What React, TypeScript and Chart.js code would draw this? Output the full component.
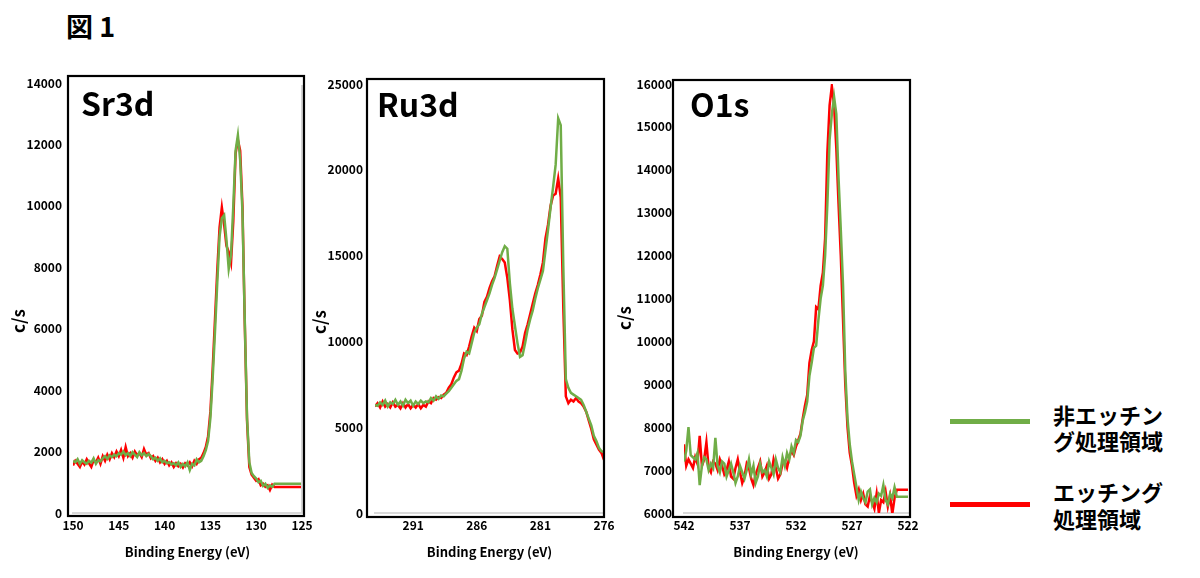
import React, { useEffect, useRef } from "react";
import { Chart, registerables } from "chart.js";

Chart.register(...registerables);

const GREEN = "#70AD47";
const RED = "#FF0000";
const FONT = "'Noto Sans CJK JP', 'Noto Sans', sans-serif";

const LEGEND_UNETCHED = ["非エッチン", "グ処理領域"];
const LEGEND_ETCHED = ["エッチング", "処理領域"];
const X_TITLE = "Binding Energy (eV)";
const Y_TITLE = "c/s";

// ---------- Sr3d ----------
const srEnergy = [
  150, 149.75, 149.5, 149.25, 149, 148.75, 148.5, 148.25, 148, 147.75,
  147.5, 147.25, 147, 146.75, 146.5, 146.25, 146, 145.75, 145.5, 145.25,
  145, 144.75, 144.5, 144.25, 144, 143.75, 143.5, 143.25, 143, 142.75,
  142.5, 142.25, 142, 141.75, 141.5, 141.25, 141, 140.75, 140.5, 140.25,
  140, 139.75, 139.5, 139.25, 139, 138.75, 138.5, 138.25, 138, 137.75,
  137.5, 137.25, 137, 136.75, 136.5, 136.25, 136, 135.75, 135.5, 135.25,
  135, 134.75, 134.5, 134.25, 134, 133.75, 133.5, 133.25, 133, 132.75,
  132.5, 132.25, 132, 131.75, 131.5, 131.25, 131, 130.75, 130.5, 130.25,
  130, 129.75, 129.5, 129.25, 129, 128.75, 128.5, 128.25, 128, 125,
];
const srEtched = [
  1550, 1700, 1600, 1500, 1680, 1580, 1750, 1620, 1500, 1720,
  1650, 1800, 1600, 1850, 1700, 1900, 1750, 1950, 1820, 2000,
  1850, 2050, 1800, 2150, 1850, 1950, 1800, 2000, 1880, 1950,
  1820, 2080, 1900, 1950, 1780, 1850, 1700, 1800, 1650, 1750,
  1600, 1700, 1550, 1650, 1500, 1620, 1520, 1600, 1480, 1620,
  1550, 1650, 1520, 1700, 1600, 1750, 1800, 1950, 2150, 2500,
  3300, 4700, 6300, 7900, 9300, 9950, 9400, 8700, 8500, 8150,
  9500, 11700, 12150, 11800, 10000, 6200, 3000, 1500, 1250, 1150,
  1050, 1100, 900, 950, 850, 900, 750, 920, 850, 850,
];
const srUnetched = [
  1700, 1650, 1750, 1600, 1720, 1650, 1600, 1700, 1640, 1780,
  1600, 1720, 1680, 1780, 1850, 1760, 1880, 1820, 1900, 1850,
  1950, 1900, 2000, 1880, 1950, 1850, 1980, 1900, 1820, 1980,
  1880, 1950, 1850, 1920, 1850, 1750, 1800, 1700, 1780, 1650,
  1700, 1620, 1650, 1580, 1620, 1550, 1650, 1500, 1600, 1520,
  1650, 1400, 1600, 1550, 1750, 1650, 1700, 1850, 2050, 2350,
  3100, 4400, 5900, 7500, 9000, 9600, 9700, 8900, 7950, 8400,
  10000, 11800, 12300, 11500, 9800, 6300, 3100, 1650, 1300, 1200,
  1120, 1000, 1050, 880, 950, 820, 900, 850, 950, 950,
];
const srXTicks = [150, 145, 140, 135, 130, 125];
const srYTicks = [0, 2000, 4000, 6000, 8000, 10000, 12000, 14000];

// ---------- Ru3d ----------
const ruEnergy = [
  294, 293.8, 293.6, 293.4, 293.2, 293, 292.8, 292.6, 292.4, 292.2,
  292, 291.8, 291.6, 291.4, 291.2, 291, 290.8, 290.6, 290.4, 290.2,
  290, 289.8, 289.6, 289.4, 289.2, 289, 288.8, 288.6, 288.4, 288.2,
  288, 287.8, 287.6, 287.4, 287.2, 287, 286.8, 286.6, 286.4, 286.2,
  286, 285.8, 285.6, 285.4, 285.2, 285, 284.8, 284.6, 284.4, 284.2,
  284, 283.8, 283.6, 283.4, 283.2, 283, 282.8, 282.6, 282.4, 282.2,
  282, 281.8, 281.6, 281.4, 281.2, 281, 280.8, 280.6, 280.4, 280.2,
  280, 279.8, 279.6, 279.4, 279.2, 279, 278.8, 278.6, 278.4, 278.2,
  278, 277.8, 277.6, 277.4, 277.2, 277, 276.8, 276.6, 276.4, 276.2,
  276,
];
const ruEtched = [
  6200, 6400, 6150, 6500, 6200, 6350, 6150, 6450, 6200, 6300,
  6100, 6400, 6150, 6350, 6100, 6300, 6150, 6350, 6100, 6300,
  6200, 6500, 6400, 6700, 6600, 6750, 6700, 6900, 7000, 7300,
  7500, 7900, 8200, 8300, 8700, 9300, 9200, 9700, 10300, 10800,
  10600, 11300, 11500, 12300, 12600, 13100, 13500, 13800, 14400, 14950,
  14800, 14600, 13700, 12400, 10700, 9500, 9300, 9350, 9700, 10500,
  11000, 11600, 12200, 12800, 13300, 13900, 14600, 16000, 16800, 17900,
  18500, 18600, 19500, 18400, 12000, 6800, 6400, 6600, 6500, 6700,
  6500, 6400, 6200, 5900, 5400, 4900, 4300, 4000, 3700, 3500,
  3100,
];
const ruUnetched = [
  6300, 6250, 6450, 6300, 6550, 6200, 6450, 6350, 6600, 6300,
  6500, 6250, 6600, 6400, 6550, 6250, 6500, 6350, 6550, 6400,
  6500, 6450, 6700, 6550, 6800, 6650, 6850, 6800, 6950, 7100,
  7300, 7500, 7700, 7800, 8300, 9000, 9400, 9300, 9900, 10500,
  10800, 11000, 11600, 12000, 12400, 12800, 13300, 13700, 14200, 14700,
  15200, 15550, 15400, 13400, 11900, 10900, 9900, 9100, 9200, 9900,
  10700, 11300, 11800, 12500, 13100, 13600, 14100, 15300, 16500, 17800,
  19000, 20300, 23000, 22600, 14400, 7800, 7300, 7000, 6900, 6800,
  6700, 6600, 6300, 5900, 5500, 5100, 4500, 4200, 3800, 3600,
  3550,
];
const ruXTicks = [291, 286, 281, 276];
const ruYTicks = [0, 5000, 10000, 15000, 20000, 25000];

// ---------- O1s ----------
const oEnergy = [
  542, 541.8, 541.6, 541.4, 541.2, 541, 540.8, 540.6, 540.4, 540.2,
  540, 539.8, 539.6, 539.4, 539.2, 539, 538.8, 538.6, 538.4, 538.2,
  538, 537.8, 537.6, 537.4, 537.2, 537, 536.8, 536.6, 536.4, 536.2,
  536, 535.8, 535.6, 535.4, 535.2, 535, 534.8, 534.6, 534.4, 534.2,
  534, 533.8, 533.6, 533.4, 533.2, 533, 532.8, 532.6, 532.4, 532.2,
  532, 531.8, 531.6, 531.4, 531.2, 531, 530.8, 530.6, 530.4, 530.2,
  530, 529.8, 529.6, 529.4, 529.2, 529, 528.8, 528.6, 528.4, 528.2,
  528, 527.8, 527.6, 527.4, 527.2, 527, 526.8, 526.6, 526.4, 526.2,
  526, 525.8, 525.6, 525.4, 525.2, 525, 524.8, 524.6, 524.4, 524.2,
  524, 523.8, 523.6, 523.4, 523.2, 523, 522,
];
const oEtched = [
  7600, 7100, 7250, 7150, 7050, 7300, 7150, 7800, 7100, 7250,
  7650, 7050, 6950, 7200, 7150, 7000, 7250, 7100, 6900, 7000,
  7200, 6850, 6800, 7050, 7250, 6950, 6700, 6850, 7150, 7050,
  6800, 6650, 6900, 7050, 7200, 6850, 6950, 7100, 6800, 6900,
  7250, 7050, 6800, 6900, 7150, 7200, 7050, 7300, 7450, 7350,
  7550, 7700, 7850, 8200, 8500, 8750, 9500, 9800, 10000, 10800,
  10750, 11300, 11600, 12400, 14400, 15500, 15950, 15500, 14500, 13200,
  12000, 10500, 9000, 8000, 7400, 7100, 6700, 6400, 6550, 6300,
  6450, 6200, 6150, 6400, 6250, 6100, 6450, 6000, 6300, 6250,
  6500, 6150, 6400, 5980, 6350, 6540, 6540,
];
const oUnetched = [
  7200, 7450, 8000, 7350, 7300, 7250, 7400, 6650, 7100, 7300,
  7250, 7000, 7150, 7050, 7750, 7100, 6950, 7200, 7150, 6850,
  7000, 7150, 6950, 6700, 6850, 7100, 6950, 6800, 7000, 7250,
  6900, 7100, 6700, 6850, 7150, 6950, 7000, 6850, 7200, 7050,
  6900, 7250, 7050, 6950, 7300, 7100, 7400, 7250, 7550, 7400,
  7700, 7650, 7800, 8150, 8350, 8600, 9200, 9500, 9850, 9900,
  10500, 11000, 11300, 12000, 13200, 14700, 15300, 15700, 15300, 13800,
  12600, 11300, 9300, 8200, 7600, 7200, 6900, 6600, 6300, 6500,
  6350, 6250, 6500, 6550, 6200, 6350, 6250, 6450, 6400, 6650,
  6300, 6200, 6450, 6350, 6600, 6380, 6380,
];
const oXTicks = [542, 537, 532, 527, 522];
const oYTicks = [6000, 7000, 8000, 9000, 10000, 11000, 12000, 13000, 14000, 15000, 16000];

const framePlugin = {
  id: "frame",
  afterDraw(chart: any, _args: any, opts: any) {
    const { ctx, chartArea: a } = chart;
    ctx.save();
    if (opts.rightGray) {
      ctx.strokeStyle = "#d4d4d4";
      ctx.lineWidth = 2;
      ctx.beginPath();
      ctx.moveTo(a.right, a.top + 2);
      ctx.lineTo(a.right, a.bottom);
      ctx.stroke();
    }
    ctx.strokeStyle = "#000";
    ctx.lineWidth = 2.2;
    const l = a.left + opts.l;
    const t = a.top + opts.t;
    const r = a.right + opts.r;
    const b = a.bottom + opts.b;
    ctx.strokeRect(l, t, r - l, b - t);
    ctx.restore();
  },
};

type PanelProps = {
  left: number;
  top: number;
  width: number;
  height: number;
  energy: number[];
  unetched: number[];
  etched: number[];
  xMin: number;
  xMax: number;
  yMin: number;
  yMax: number;
  xTicks: number[];
  yTicks: number[];
  area: { left: number; top: number; right: number; bottom: number };
  box: { l: number; t: number; r: number; b: number };
  yPad: number;
  rightGray?: boolean;
};

function Panel(p: PanelProps) {
  const ref = useRef<HTMLCanvasElement | null>(null);
  useEffect(() => {
    if (!ref.current) return;
    const tickFont = { family: FONT, size: 12, weight: "bold" as const };
    const chart = new Chart(ref.current, {
      type: "line",
      data: {
        datasets: [
          {
            label: LEGEND_UNETCHED.join(""),
            data: p.energy.map((x, i) => ({ x, y: p.unetched[i] })),
            borderColor: GREEN,
            backgroundColor: GREEN,
            borderWidth: 2.5,
            pointRadius: 0,
            tension: 0,
            order: 0,
          },
          {
            label: LEGEND_ETCHED.join(""),
            data: p.energy.map((x, i) => ({ x, y: p.etched[i] })),
            borderColor: RED,
            backgroundColor: RED,
            borderWidth: 2.5,
            pointRadius: 0,
            tension: 0,
            order: 1,
          },
        ],
      },
      options: {
        animation: false,
        responsive: false,
        maintainAspectRatio: false,
        layout: {
          padding: { left: 0, top: p.area.top, right: p.width - p.area.right, bottom: 0 },
        },
        plugins: {
          legend: { display: false },
          tooltip: { enabled: false },
          frame: { ...p.box, rightGray: !!p.rightGray },
        } as any,
        scales: {
          x: {
            type: "linear",
            reverse: true,
            min: p.xMin,
            max: p.xMax,
            grid: { display: false, drawTicks: false },
            border: { display: true, color: "#d9d9d9", width: 2 },
            ticks: {
              font: tickFont,
              color: "#000",
              padding: 5,
              autoSkip: false,
              maxRotation: 0,
              callback: (v: any) => String(v),
            },
            afterBuildTicks: (s: any) => {
              s.ticks = p.xTicks.map((v) => ({ value: v }));
            },
            afterFit: (s: any) => {
              s.height = p.height - p.area.bottom;
            },
            title: {
              display: true,
              text: X_TITLE,
              font: { family: FONT, size: 13, weight: "bold" },
              color: "#000",
              padding: { top: 0, bottom: 18 },
            },
          },
          y: {
            type: "linear",
            min: p.yMin,
            max: p.yMax,
            grid: { display: false, drawTicks: false },
            border: { display: false },
            ticks: {
              font: tickFont,
              color: "#000",
              padding: p.yPad,
              autoSkip: false,
              callback: (v: any) => String(v),
            },
            afterBuildTicks: (s: any) => {
              s.ticks = p.yTicks.map((v) => ({ value: v }));
            },
            afterFit: (s: any) => {
              s.width = p.area.left;
            },
          },
        },
      } as any,
      plugins: [framePlugin],
    });
    return () => chart.destroy();
  }, []);
  return (
    <canvas
      ref={ref}
      width={p.width}
      height={p.height}
      style={{ position: "absolute", left: p.left, top: p.top, width: p.width, height: p.height }}
    />
  );
}

const textBase: React.CSSProperties = {
  position: "absolute",
  fontFamily: FONT,
  fontWeight: 700,
  color: "#000",
  whiteSpace: "nowrap",
  lineHeight: 1,
};

function YTitle({ cx, cy }: { cx: number; cy: number }) {
  return (
    <div
      style={{
        ...textBase,
        left: cx,
        top: cy,
        fontSize: 17,
        transform: "translate(-50%, -50%) rotate(-90deg)",
      }}
    >
      {Y_TITLE}
    </div>
  );
}

export default function App() {
  return (
    <div
      style={{
        position: "absolute",
        left: 0,
        top: 0,
        width: 1200,
        height: 578,
        overflow: "hidden",
        background: "#fff",
      }}
    >
      <div style={{ ...textBase, left: 66, top: 12, fontSize: 27 }}>図 1</div>

      <Panel
        left={0}
        top={60}
        width={320}
        height={518}
        energy={srEnergy}
        unetched={srUnetched}
        etched={srEtched}
        xMin={125}
        xMax={150}
        yMin={0}
        yMax={14000}
        xTicks={srXTicks}
        yTicks={srYTicks}
        area={{ left: 73, top: 23, right: 302, bottom: 453 }}
        box={{ l: -5, t: -7, r: 2, b: 3 }}
        yPad={11}
        rightGray
      />
      <Panel
        left={320}
        top={60}
        width={300}
        height={518}
        energy={ruEnergy}
        unetched={ruUnetched}
        etched={ruEtched}
        xMin={276}
        xMax={294}
        yMin={0}
        yMax={25000}
        xTicks={ruXTicks}
        yTicks={ruYTicks}
        area={{ left: 55, top: 24, right: 284, bottom: 453 }}
        box={{ l: -8, t: -5, r: 0, b: 4 }}
        yPad={12}
      />
      <Panel
        left={610}
        top={60}
        width={320}
        height={518}
        energy={oEnergy}
        unetched={oUnetched}
        etched={oEtched}
        xMin={522}
        xMax={542}
        yMin={6000}
        yMax={16000}
        xTicks={oXTicks}
        yTicks={oYTicks}
        area={{ left: 74, top: 24, right: 298, bottom: 453 }}
        box={{ l: -11, t: -4, r: 2, b: 4 }}
        yPad={12}
      />

      <div style={{ ...textBase, left: 81, top: 86, fontSize: 32 }}>Sr3d</div>
      <div style={{ ...textBase, left: 377, top: 87, fontSize: 32 }}>Ru3d</div>
      <div style={{ ...textBase, left: 690, top: 87, fontSize: 32 }}>O1s</div>

      <YTitle cx={17} cy={321} />
      <YTitle cx={318} cy={322} />
      <YTitle cx={623} cy={318} />

      <div style={{ position: "absolute", left: 950, top: 419, width: 80, height: 5, background: GREEN }} />
      <div style={{ position: "absolute", left: 950, top: 502, width: 80, height: 5, background: RED }} />
      <div style={{ ...textBase, left: 1053, top: 401, fontSize: 22, lineHeight: "26px", fontWeight: 600 }}>
        {LEGEND_UNETCHED[0]}
        <br />
        {LEGEND_UNETCHED[1]}
      </div>
      <div style={{ ...textBase, left: 1053, top: 478, fontSize: 22, lineHeight: "27px", fontWeight: 600 }}>
        {LEGEND_ETCHED[0]}
        <br />
        {LEGEND_ETCHED[1]}
      </div>
    </div>
  );
}
